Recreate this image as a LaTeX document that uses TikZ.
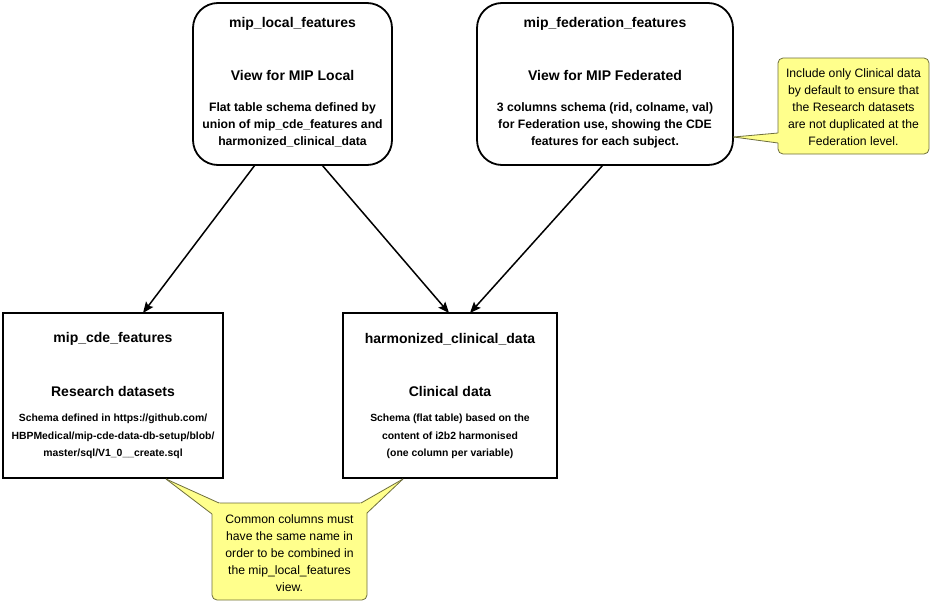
\documentclass[tikz,border=0pt]{standalone}
\usepackage{fontspec}
\setmainfont{Liberation Sans}
\usetikzlibrary{arrows.meta,calc}
\definecolor{notefill}{RGB}{255,255,140}
\definecolor{noteline}{RGB}{110,110,60}
\begin{document}
\begin{tikzpicture}[x=1pt,y=-1pt,
  tablebox/.style={draw, line width=1.8pt, inner sep=0pt, outer sep=0pt, anchor=north west},
  viewbox/.style={tablebox, rounded corners=25pt},
  notebox/.style={draw=noteline, fill=notefill, line width=0.8pt, rounded corners=5pt, inner sep=0pt, outer sep=0pt, anchor=north west},
  ttl/.style={font=\fontsize{14}{17}\selectfont\bfseries, inner sep=0pt},
  dsc/.style={font=\fontsize{12.2}{17}\selectfont\bfseries, align=center, inner sep=0pt},
  dscs/.style={font=\fontsize{10.4}{17.5}\selectfont\bfseries, align=center, inner sep=0pt},
  ntxt/.style={font=\fontsize{12.2}{17}\selectfont, align=center, inner sep=0pt},
  arr/.style={line width=1.5pt, -{Stealth[length=11pt,width=9pt,inset=2pt]}},
  ptr/.style={draw=noteline, line width=0.8pt},
  ptrfill/.style={fill=notefill}
]
\useasboundingbox (0,0) rectangle (936,605);

% boxes
\node[viewbox, minimum width=199, minimum height=162] (lf) at (193,3) {};
\node[viewbox, minimum width=256, minimum height=162] (ff) at (477,3) {};
\node[tablebox, minimum width=220, minimum height=165] (cde) at (3,313) {};
\node[tablebox, minimum width=214, minimum height=165] (hcd) at (343,313) {};

% texts of mip_local_features
\node[ttl] (lft) at (292.5,24) {mip\_local\_features};
\node[ttl] (lfv) at (292.5,75) {View for MIP Local};
\node[dsc] (lfd) at (292.5,125) {Flat table schema defined by\\union of mip\_cde\_features and\\harmonized\_clinical\_data};

% texts of mip_federation_features
\node[ttl] (fft) at (605,24) {mip\_federation\_features};
\node[ttl] (ffv) at (605,75) {View for MIP Federated};
\node[dsc] (ffd) at (605,125) {3 columns schema (rid, colname, val)\\for Federation use, showing the CDE\\features for each subject.};

% texts of mip_cde_features
\node[ttl] (cdet) at (113,339) {mip\_cde\_features};
\node[ttl] (cdev) at (113,391) {Research datasets};
\node[dscs] (cded) at (113,436.5) {Schema defined in https://github.com/\\HBPMedical/mip-cde-data-db-setup/blob/\\master/sql/V1\_0\_\_create.sql};

% texts of harmonized_clinical_data
\node[ttl] (hcdt) at (450,339) {harmonized\_clinical\_data};
\node[ttl] (hcdv) at (450,391) {Clinical data};
\node[dscs] (hcdd) at (450,436.5) {Schema (flat table) based on the\\content of i2b2 harmonised\\(one column per variable)};

% arrows
\draw[arr] ($(lf.south west)+(62,0)$) -- ($(cde.north west)+(140,0)$);
\draw[arr] ($(lf.south west)+(129,0)$) -- ($(hcd.north west)+(106,0)$);
\draw[arr] ($(ff.south west)+(126,0)$) -- ($(hcd.north west)+(127,0)$);

% note 1 (federation)
\node[notebox, minimum width=151, minimum height=96] (n1) at (778,58) {};
\coordinate (p1) at (733.5,137);
\fill[ptrfill] (p1) -- (779,133) -- (779,143) -- cycle;
\draw[ptr] (p1) -- (778,133);
\draw[ptr] (p1) -- (778,143);
\node[ntxt] (n1t) at (853.5,107) {Include only Clinical data\\by default to ensure that\\the Research datasets\\are not duplicated at the\\Federation level.};

% note 2 (common columns)
\node[notebox, minimum width=155, minimum height=97] (n2) at (212,503) {};
\coordinate (p2) at (166,479);
\coordinate (p3) at (403,479);
\fill[ptrfill] (p2) -- (219,503) -- (225,508) -- (212,514) -- cycle;
\draw[ptr] (p2) -- (219,503);
\draw[ptr] (p2) -- (212,514);
\fill[ptrfill] (p3) -- (361,503) -- (355,508) -- (367,513) -- cycle;
\draw[ptr] (p3) -- (361,503);
\draw[ptr] (p3) -- (367,513);
\node[ntxt] (n2t) at (289.5,553) {Common columns must\\have the same name in\\order to be combined in\\the mip\_local\_features\\view.};
\end{tikzpicture}
\end{document}
